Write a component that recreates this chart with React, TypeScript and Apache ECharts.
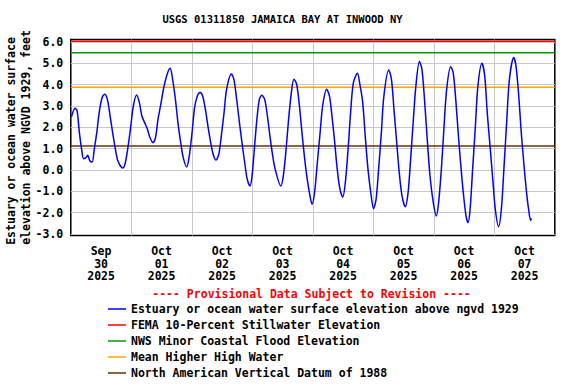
import React, { useEffect, useRef } from "react";
import * as echarts from "echarts";

const TITLE = "USGS 01311850 JAMAICA BAY AT INWOOD NY";
const PROVISIONAL = "---- Provisional Data Subject to Revision ----";
const Y_NAME = "Estuary or ocean water surface \nelevation above NGVD 1929, feet";

const dateLabels = [
  "Sep\n30\n2025",
  "Oct\n01\n2025",
  "Oct\n02\n2025",
  "Oct\n03\n2025",
  "Oct\n04\n2025",
  "Oct\n05\n2025",
  "Oct\n06\n2025",
  "Oct\n07\n2025",
];

const yTicks = [-3, -2, -1, 0, 1, 2, 3, 4, 5, 6];

// hours since 2025-09-30 00:00
const hours = [
  0.3, 1.7, 2.5, 3.4, 4.3, 5.1, 6.0, 6.7, 7.6, 8.5, 9.3, 10.3, 11.3, 12.4, 13.4, 14.5, 15.6, 16.6, 17.7, 18.7,
  20.6, 21.6, 22.7, 23.8, 24.8, 26.1, 27.2, 28.2, 29.3, 30.4, 31.4, 32.6, 33.6, 34.6, 35.7, 36.7, 38.0, 39.4,
  40.4, 41.5, 42.5, 43.6, 44.6, 46.0, 47.0, 48.1, 49.1, 50.2, 51.3, 52.3, 53.4, 54.4, 55.5, 56.5, 57.6, 58.7,
  59.7, 60.8, 61.8, 63.7, 64.7, 65.8, 66.9, 67.9, 69.0, 70.0, 71.1, 71.9, 72.7, 73.7, 74.8, 75.8, 76.9, 78.0,
  79.0, 80.1, 81.1, 83.3, 84.3, 85.4, 86.4, 87.5, 88.5, 89.6, 90.7, 91.7, 92.8, 93.8, 94.9, 95.7, 96.7, 97.8,
  98.9, 99.9, 101.5, 102.6, 103.6, 104.7, 105.7, 106.8, 107.9, 108.9, 110.0, 111.0, 112.1, 113.7, 114.7, 115.8,
  116.8, 117.9, 119.0, 120.1, 121.1, 122.1, 123.2, 124.2, 126.1, 127.2, 128.2, 129.3, 130.3, 131.4, 132.7, 133.8,
  134.8, 135.9, 136.9, 138.3, 139.3, 140.4, 141.4, 142.5, 143.8, 145.0, 145.9, 147.0, 148.0, 149.1, 150.7, 151.7,
  152.8, 153.7, 154.8, 155.7, 156.8, 157.6, 158.4, 159.4, 160.5, 161.5, 163.1, 164.2, 165.2, 166.3, 167.4, 168.4,
  169.7, 170.8, 171.8, 172.9, 174.0, 175.7, 176.6, 177.7, 178.7, 179.8, 180.8, 181.6, 182.4, 182.8,
];

const levels = [
  2.5, 2.89, 2.77, 1.75, 0.97, 0.53, 0.58, 0.69, 0.42, 0.38, 0.97, 1.75, 2.72, 3.39, 3.55, 3.31, 2.53, 1.75, 0.97, 0.42,
  0.09, 0.33, 1.09, 2.06, 3.0, 3.52, 3.16, 2.53, 2.22, 1.91, 1.52, 1.28, 1.52, 2.38, 3.08, 3.75, 4.41, 4.77,
  4.25, 3.31, 2.22, 1.28, 0.58, 0.14, 0.66, 1.75, 2.92, 3.47, 3.63, 3.47, 2.84, 2.06, 1.28, 0.73, 0.47, 0.73,
  1.59, 2.69, 3.78, 4.5, 4.25, 3.31, 2.22, 1.28, 0.34, -0.44, -0.75, -0.28, 0.81, 2.22, 3.31, 3.5, 3.31, 2.53,
  1.59, 0.66, 0.03, -0.75, -0.28, 0.97, 2.38, 3.63, 4.25, 4.02, 3.0, 1.75, 0.5, -0.44, -1.22, -1.61, -1.06, 0.34,
  1.75, 3.0, 3.78, 3.47, 2.53, 1.28, 0.03, -0.91, -1.27, -0.59, 0.97, 2.69, 4.09, 4.53, 4.0, 3.16,
  1.59, 0.03, -1.06, -1.81, -1.38, 0.03, 1.75, 3.47, 4.69, 4.25, 2.84, 1.28, -0.13, -1.22, -1.72, -1.06,
  0.5, 2.38, 3.94, 5.08, 4.72, 3.16, 1.44, -0.28, -1.53, -2.16, -1.53, 0.03, 1.91, 3.78, 4.84, 4.56,
  3.16, 1.7, 0.1, -1.06, -2.16, -2.47, -1.84, 0.03, 2.06, 3.94, 5.0, 4.41, 2.69, 1.13, -0.44, -1.84,
  -2.66, -1.84, 0.03, 2.22, 4.25, 5.27, 4.88, 3.47, 1.75, 0.19, -1.06, -1.84, -2.36, -2.27,
];

const seriesName = "Estuary or ocean water surface elevation above ngvd 1929";
const refNames = [
  "FEMA 10-Percent Stillwater Elevation",
  "NWS Minor Coastal Flood Elevation",
  "Mean Higher High Water",
  "North American Vertical Datum of 1988",
];
const refValues = [6.03, 5.5, 3.88, 1.12];
const refColors = ["#ff0000", "#009900", "#ffa500", "#663300"];

const X_MIN = 0;
const X_MAX = 192;
const Y_MIN = -3.07;
const Y_MAX = 6.117;

const FONT = "DejaVu Sans Mono";

export default function App() {
  const ref = useRef<HTMLDivElement>(null);
  useEffect(() => {
    if (!ref.current) return;
    const chart = echarts.init(ref.current, null, { renderer: "svg" });
    const baseText = { fontFamily: FONT, fontWeight: "bold" as const, color: "#000" };
    const option: any = {
      animation: false,
      backgroundColor: "#fff",
      title: [
        {
          text: TITLE,
          left: 282.5,
          top: 13,
          textAlign: "center",
          padding: 0,
          textStyle: { ...baseText, fontSize: 10.5 },
        },
        {
          text: PROVISIONAL,
          left: 311.5,
          top: 288,
          textAlign: "center",
          padding: 0,
          textStyle: { ...baseText, fontSize: 11.5, color: "#ff0000" },
        },
      ],
      legend: {
        orient: "vertical",
        left: 108,
        top: 302,
        padding: 0,
        itemGap: 2,
        itemWidth: 18,
        itemHeight: 1.5,
        icon: "rect",
        textStyle: { ...baseText, fontSize: 11.5, lineHeight: 14 },
        data: [seriesName, ...refNames],
      },
      grid: {
        left: 70.8,
        top: 39.5,
        width: 484,
        height: 196,
        show: true,
        containLabel: false,
        outerBoundsMode: "none",
        borderColor: "#000",
        borderWidth: 1.5,
        backgroundColor: "transparent",
      },
      xAxis: [
        {
          type: "value",
          min: X_MIN,
          max: X_MAX,
          interval: 24,
          axisLine: { show: false },
          axisTick: { show: false },
          axisLabel: { show: false },
          splitLine: { show: true, showMinLine: false, showMaxLine: false, lineStyle: { color: "#c8c8c8", width: 1 } },
        },
        {
          type: "category",
          data: dateLabels,
          boundaryGap: true,
          position: "bottom",
          axisLine: { show: false },
          axisTick: { show: false },
          splitLine: { show: false },
          axisLabel: { ...baseText, fontSize: 11.5, lineHeight: 12.7, margin: 9, interval: 0 },
        },
      ],
      yAxis: {
        type: "value",
        min: Y_MIN,
        max: Y_MAX,
        name: Y_NAME,
        nameLocation: "middle",
        nameRotate: 90,
        nameGap: 37,
        nameMoveOverlap: false,
        nameTextStyle: { ...baseText, fontSize: 11.5, lineHeight: 15.5 },
        axisLine: { show: false },
        axisTick: { show: false, customValues: yTicks },
        axisLabel: {
          ...baseText,
          fontSize: 11.5,
          margin: 7.5,
          customValues: yTicks,
          formatter: (v: number) => v.toFixed(1),
        },
        splitLine: { show: true, lineStyle: { color: "#c8c8c8", width: 1 } },
      },
      series: [
        ...refNames.map((name, i) => ({
          name,
          type: "line",
          xAxisIndex: 0,
          data: [
            [X_MIN, refValues[i]],
            [X_MAX, refValues[i]],
          ],
          symbol: "none",
          clip: false,
          lineStyle: { color: refColors[i], width: 1.5 },
          itemStyle: { color: refColors[i] },
          z: 3,
        })),
        {
          name: seriesName,
          type: "line",
          xAxisIndex: 0,
          data: hours.map((h, i) => [h, levels[i]]),
          symbol: "none",
          smooth: 0.3,
          lineStyle: { color: "#0000ff", width: 1.5 },
          itemStyle: { color: "#0000ff" },
          z: 4,
        },
      ],
    };
    chart.setOption(option);
    return () => chart.dispose();
  }, []);
  return <div ref={ref} style={{ width: 576, height: 384, position: "absolute", left: 0, top: 0 }} />;
}
